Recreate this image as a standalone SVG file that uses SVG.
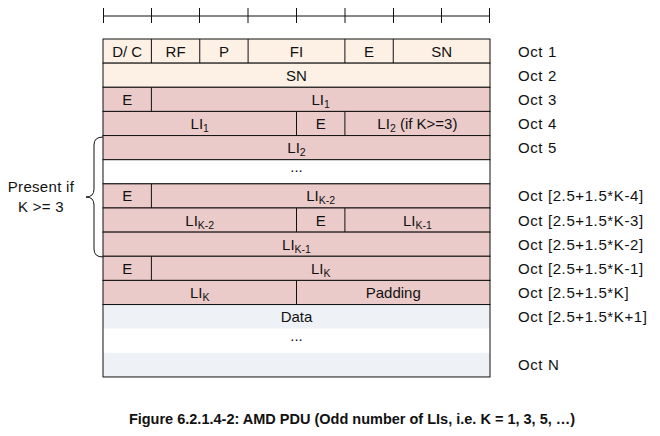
<svg xmlns="http://www.w3.org/2000/svg" width="660" height="436" viewBox="0 0 660 436">
<style>
text{font-family:"Liberation Sans",Arial,sans-serif;font-size:15px;fill:#111;text-anchor:middle}
.oct{text-anchor:start;letter-spacing:0.6px}
.sub{font-size:10.5px}
.pe{fill:#FDF0E4;stroke:#111;stroke-width:1}
.pk{fill:#EBCBCA;stroke:#111;stroke-width:1}
.wh{fill:#FFFFFF;stroke:#111;stroke-width:1}
.gy{fill:#EEF1F5;stroke:none}
.ln{stroke:#111;stroke-width:1;fill:none}
.cap{font-weight:bold;font-size:14.5px}
</style>
<g id="ruler" class="ln">
<line x1="103" y1="16" x2="490" y2="16"/>
<path d="M103.5,8V23M151.5,8V23M199.5,8V23M248,8V23M296.5,8V23M345,8V23M393.5,8V23M441.5,8V23M489.5,8V23"/>
</g>
<g id="row-oct1">
<rect class="pe" x="103" y="39" width="387" height="24.14"/>
<path class="ln" d="M151.4,39V63.14M199.75,39V63.14M248.1,39V63.14M344.9,39V63.14M393.25,39V63.14"/>
<text x="127.2" y="56.5">D/ C</text>
<text x="175.6" y="56.5">RF</text>
<text x="223.9" y="56.5">P</text>
<text x="296.5" y="56.5">FI</text>
<text x="369.1" y="56.5">E</text>
<text x="441.6" y="56.5">SN</text>
</g>
<g id="row-oct2">
<rect class="pe" x="103" y="63.14" width="387" height="24.14"/>
<text x="296.5" y="80.6">SN</text>
</g>
<g id="row-oct3">
<rect class="pk" x="103" y="87.28" width="387" height="24.14"/>
<path class="ln" d="M151.4,87.28V111.42"/>
<text x="127.2" y="104.8">E</text>
<text x="320.7" y="104.8">LI<tspan class="sub" dy="3">1</tspan></text>
</g>
<g id="row-oct4">
<rect class="pk" x="103" y="111.42" width="387" height="24.14"/>
<path class="ln" d="M296.5,111.42V135.56M344.9,111.42V135.56"/>
<text x="199.75" y="128.9">LI<tspan class="sub" dy="3">1</tspan></text>
<text x="320.7" y="128.9">E</text>
<text x="417.4" y="128.9">LI<tspan class="sub" dy="3">2</tspan><tspan dy="-3"> (if K&gt;=3)</tspan></text>
</g>
<g id="row-oct5">
<rect class="pk" x="103" y="135.56" width="387" height="24.14"/>
<text x="296.5" y="153.1">LI<tspan class="sub" dy="3">2</tspan></text>
</g>
<g id="row-gap1">
<rect class="wh" x="103" y="159.7" width="387" height="24.14"/>
<text x="296.5" y="172">...</text>
</g>
<g id="row-k4">
<rect class="pk" x="103" y="183.84" width="387" height="24.14"/>
<path class="ln" d="M151.4,183.84V207.98"/>
<text x="127.2" y="201.4">E</text>
<text x="320.7" y="201.4">LI<tspan class="sub" dy="3">K-2</tspan></text>
</g>
<g id="row-k3">
<rect class="pk" x="103" y="207.98" width="387" height="24.14"/>
<path class="ln" d="M296.5,207.98V232.12M344.9,207.98V232.12"/>
<text x="199.75" y="225.5">LI<tspan class="sub" dy="3">K-2</tspan></text>
<text x="320.7" y="225.5">E</text>
<text x="417.4" y="225.5">LI<tspan class="sub" dy="3">K-1</tspan></text>
</g>
<g id="row-k2">
<rect class="pk" x="103" y="232.12" width="387" height="24.14"/>
<text x="296.5" y="249.6">LI<tspan class="sub" dy="3">K-1</tspan></text>
</g>
<g id="row-k1">
<rect class="pk" x="103" y="256.26" width="387" height="24.14"/>
<path class="ln" d="M151.4,256.26V280.4"/>
<text x="127.2" y="273.8">E</text>
<text x="320.7" y="273.8">LI<tspan class="sub" dy="3">K</tspan></text>
</g>
<g id="row-k">
<rect class="pk" x="103" y="280.4" width="387" height="24.14"/>
<path class="ln" d="M296.5,280.4V304.54"/>
<text x="199.75" y="297.9">LI<tspan class="sub" dy="3">K</tspan></text>
<text x="393.25" y="297.9">Padding</text>
</g>
<g id="data">
<rect class="gy" x="103" y="304.54" width="387" height="24.14"/>
<rect fill="#FFFFFF" x="103" y="328.68" width="387" height="24.14"/>
<rect class="gy" x="103" y="352.82" width="387" height="24.14"/>
<rect class="ln" x="103" y="304.54" width="387" height="72.42"/>
<text x="296.5" y="322">Data</text>
<text x="296.5" y="341">...</text>
</g>
<g id="oct-labels">
<text class="oct" x="518" y="56.5">Oct 1</text>
<text class="oct" x="518" y="80.6">Oct 2</text>
<text class="oct" x="518" y="104.8">Oct 3</text>
<text class="oct" x="518" y="128.9">Oct 4</text>
<text class="oct" x="518" y="153.1">Oct 5</text>
<text class="oct" x="518" y="201.4">Oct [2.5+1.5*K-4]</text>
<text class="oct" x="518" y="225.5">Oct [2.5+1.5*K-3]</text>
<text class="oct" x="518" y="249.6">Oct [2.5+1.5*K-2]</text>
<text class="oct" x="518" y="273.8">Oct [2.5+1.5*K-1]</text>
<text class="oct" x="518" y="297.9">Oct [2.5+1.5*K]</text>
<text class="oct" x="518" y="322">Oct [2.5+1.5*K+1]</text>
<text class="oct" x="518" y="370.3">Oct N</text>
</g>
<g id="connectors">
<path class="ln" d="M103,137 Q94,137 94,145 L94,189 Q94,197 86,197 Q94,197 94,205 L94,249 Q94,257 103,257"/>
</g>
<g id="present-label">
<text x="41" y="192" style="letter-spacing:0.3px">Present if</text>
<text x="41" y="212" style="letter-spacing:0.3px">K &gt;= 3</text>
</g>
<text class="cap" x="352" y="424">Figure 6.2.1.4-2: AMD PDU (Odd number of LIs, i.e. K = 1, 3, 5, …)</text>
</svg>
